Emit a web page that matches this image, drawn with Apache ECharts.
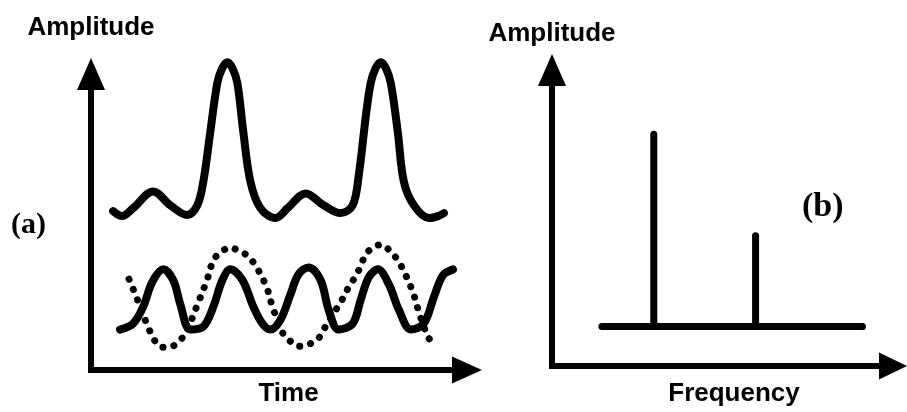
<!DOCTYPE html>
<html>
<head>
<meta charset="utf-8">
<script src="https://cdn.jsdelivr.net/npm/echarts@6/dist/echarts.min.js"></script>
<style>
  html, body { margin: 0; padding: 0; background: #fff; }
  #chart { width: 907px; height: 412px; }
</style>
</head>
<body>
<div id="chart"></div>
<script>
// (a) time domain: the combined signal (time, amplitude)
const sumTime = [1.47, 2.07, 2.8, 4.13, 5.27, 6.4, 7.07, 7.47, 7.93, 8.4, 8.73, 9.07, 9.4, 9.73, 10.13, 10.6, 11.27, 12.27, 13.07, 14.27, 15.47, 16.6, 17.4, 17.8, 18.27, 18.6, 18.93, 19.27, 19.6, 19.93, 20.4, 20.8, 21.47, 22.47, 23.07, 23.47];
const sumAmp  = [16.1, 15.6, 16.4, 18.1, 16.7, 15.7, 16.7, 19.1, 24.1, 29.1, 30.6, 31.2, 30.6, 29.1, 24.1, 19.1, 16.4, 15.4, 16.4, 17.9, 16.7, 15.9, 16.7, 19.7, 25.7, 29.1, 30.6, 31.2, 30.6, 29.1, 24.1, 19.1, 16.7, 15.4, 15.6, 15.9];

// higher-frequency component (solid)
const highTime = [1.93, 2.8, 3.47, 4.07, 4.8, 5.47, 5.93, 6.6, 7.47, 8.13, 8.73, 9.27, 10.07, 10.8, 11.4, 11.93, 12.6, 13.27, 13.8, 14.47, 15.27, 15.8, 16.47, 17.4, 17.93, 18.47, 19.07, 19.8, 20.47, 21.27, 22.13, 22.8, 23.4, 24.07];
const highAmp  = [4.1, 4.7, 6.4, 8.9, 10.2, 9.1, 6.7, 4.1, 4.4, 6.4, 9.1, 10.2, 9.1, 6.4, 4.7, 4.1, 5.1, 7.7, 9.7, 10.4, 9.1, 6.1, 4.1, 4.7, 7.1, 9.4, 10.2, 8.7, 6.1, 4.1, 4.7, 7.4, 9.6, 10.2];

// lower-frequency component (dotted)
const lowTime = [2.53, 3.07, 3.73, 4.27, 4.73, 5.4, 5.93, 6.4, 7.07, 7.73, 8.13, 8.6, 9.27, 9.8, 10.4, 10.8, 11.13, 11.47, 11.73, 12.07, 12.8, 13.27, 13.8, 14.47, 15.07, 15.47, 16.4, 16.8, 17.13, 17.47, 17.8, 18.27, 18.73, 19.27, 19.8, 20.27, 20.6, 20.93, 21.4, 21.8, 22.13, 22.47, 22.93];
const lowAmp  = [9.2, 7.2, 4.6, 2.9, 2.3, 2.4, 3.0, 4.1, 6.6, 9.2, 11.1, 11.9, 12.4, 12.1, 11.6, 10.9, 10.1, 9.1, 8.2, 6.4, 3.6, 2.9, 2.4, 2.6, 3.1, 4.1, 6.4, 7.4, 8.4, 9.2, 10.1, 11.7, 12.4, 12.7, 12.2, 11.4, 10.6, 9.6, 7.9, 5.9, 4.4, 3.2, 2.6];

// (b) frequency domain: one line per tone, standing on a floor
const specFreq = [1, 2];
const specAmp = [23.5, 13.2];
const specFloor = 4;
const specFloorRange = [0.49, 3.05];

const pairs = (xs, ys) => xs.map((x, i) => [x, ys[i]]);
const INK = '#000';

const sansBold = { color: INK, fontFamily: 'Liberation Sans', fontWeight: 'bold', fontSize: 26 };

function arrowAxis(gridIndex, max, size, extra) {
  return Object.assign({
    type: 'value', gridIndex, min: 0, max,
    axisLine: {
      show: true, onZero: false,
      symbol: ['none', 'triangle'], symbolSize: size,
      lineStyle: { color: INK, width: 6, cap: 'square' }
    },
    axisTick: { show: false }, axisLabel: { show: false }, splitLine: { show: false }
  }, extra);
}

const lineBase = { type: 'line', showSymbol: false, symbol: 'none', clip: false, silent: true };

const series = [
  Object.assign({}, lineBase, {
    name: 'sum', xAxisIndex: 0, yAxisIndex: 0, smooth: 0.35,
    data: pairs(sumTime, sumAmp),
    lineStyle: { color: INK, width: 8, cap: 'round', join: 'round' }
  }),
  Object.assign({}, lineBase, {
    name: 'high', xAxisIndex: 0, yAxisIndex: 0, smooth: 0.35,
    data: pairs(highTime, highAmp),
    lineStyle: { color: INK, width: 8, cap: 'round', join: 'round' }
  }),
  Object.assign({}, lineBase, {
    name: 'low', xAxisIndex: 0, yAxisIndex: 0, smooth: 0.35,
    data: pairs(lowTime, lowAmp),
    lineStyle: { color: INK, width: 7, type: [0.1, 11], cap: 'round' }
  }),
  Object.assign({}, lineBase, {
    name: 'floor', xAxisIndex: 1, yAxisIndex: 1,
    data: specFloorRange.map(f => [f, specFloor]),
    lineStyle: { color: INK, width: 7, cap: 'round' }
  })
].concat(specFreq.map((f, i) => Object.assign({}, lineBase, {
  name: 'tone' + (i + 1), xAxisIndex: 1, yAxisIndex: 1,
  data: [[f, specFloor], [f, specAmp[i]]],
  lineStyle: { color: INK, width: 7, cap: 'round' }
})));

const chart = echarts.init(document.getElementById('chart'), null, { renderer: 'canvas' });
chart.setOption({
  backgroundColor: '#fff',
  animation: false,
  title: [
    { text: '(a)', left: 11, top: 210, padding: 0,
      textStyle: { color: INK, fontFamily: 'Liberation Serif', fontWeight: 'bold', fontSize: 30 } },
    { text: '(b)', left: 802, top: 190, padding: 0,
      textStyle: { color: INK, fontFamily: 'Liberation Serif', fontWeight: 'bold', fontSize: 34 } }
  ],
  grid: [
    { left: 91, top: 74, width: 376, height: 300 },
    { left: 552, top: 70, width: 341, height: 300 }
  ],
  xAxis: [
    arrowAxis(0, 25, [27, 30], {
      name: 'Time', nameLocation: 'middle', nameGap: 11,
      nameTextStyle: Object.assign({ padding: [0, 0, 0, 19] }, sansBold)
    }),
    arrowAxis(1, 3.35, [27, 28], {
      name: 'Frequency', nameLocation: 'middle', nameGap: 15,
      nameTextStyle: Object.assign({ padding: [0, 0, 0, 23] }, sansBold)
    })
  ],
  yAxis: [
    arrowAxis(0, 30, [28, 32], {
      name: 'Amplitude', nameLocation: 'end', nameGap: 33, nameTextStyle: sansBold
    }),
    arrowAxis(1, 30, [28, 32], {
      name: 'Amplitude', nameLocation: 'end', nameGap: 23, nameTextStyle: sansBold
    })
  ],
  series
});
</script>
</body>
</html>
